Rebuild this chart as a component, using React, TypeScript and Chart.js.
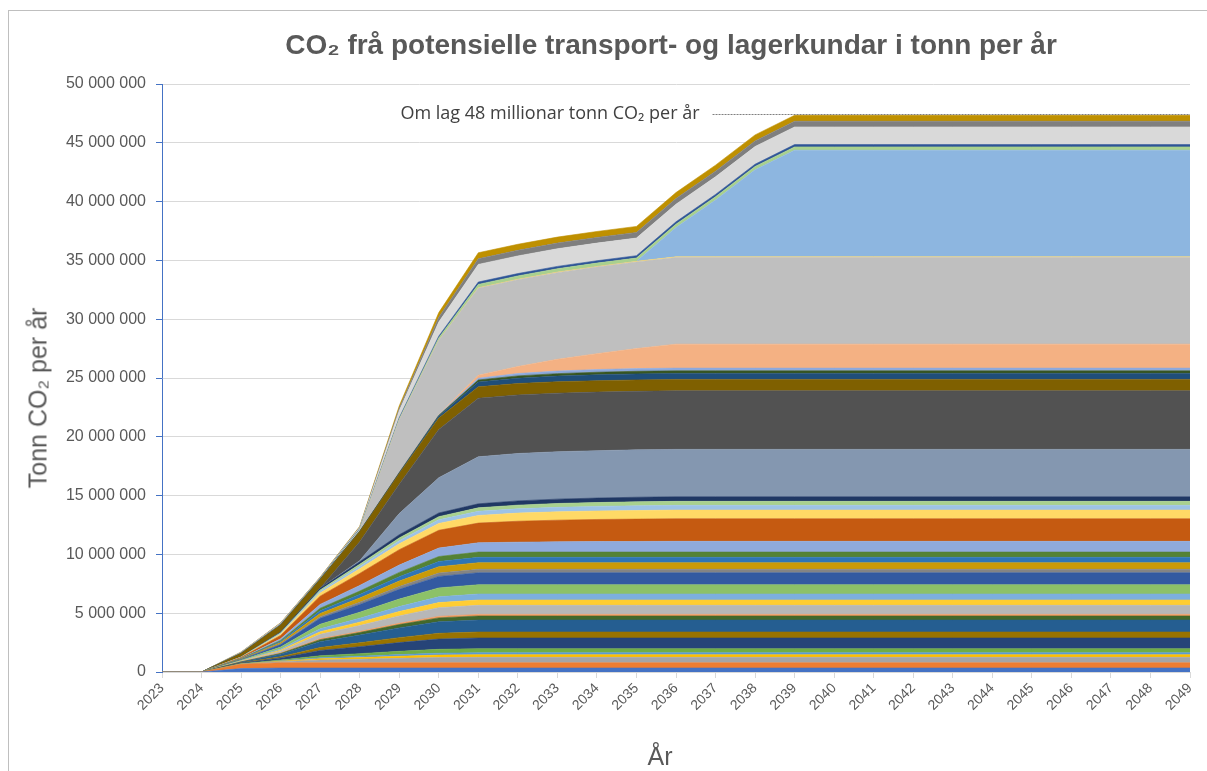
import React, { useEffect, useRef } from 'react';
import { Chart, registerables } from 'chart.js';

Chart.register(...registerables);

// ---------- DATA (values in millions of tonnes CO2 per year) ----------
const years = [
  '2023', '2024', '2025', '2026', '2027', '2028', '2029', '2030', '2031',
  '2032', '2033', '2034', '2035', '2036', '2037', '2038', '2039', '2040',
  '2041', '2042', '2043', '2044', '2045', '2046', '2047', '2048', '2049',
];

const yTickValues = [0, 5, 10, 15, 20, 25, 30, 35, 40, 45, 50];

const s01 = [0, 0, 0.29, 0.34, 0.34, 0.34, 0.34, 0.34, 0.34,
  0.34, 0.34, 0.34, 0.34, 0.34, 0.34, 0.34, 0.34, 0.34,
  0.34, 0.34, 0.34, 0.34, 0.34, 0.34, 0.34, 0.34, 0.34];
const s02 = [0, 0, 0.36, 0.45, 0.45, 0.45, 0.45, 0.45, 0.45,
  0.45, 0.45, 0.45, 0.45, 0.45, 0.45, 0.45, 0.45, 0.45,
  0.45, 0.45, 0.45, 0.45, 0.45, 0.45, 0.45, 0.45, 0.45];
const s03 = [0, 0, 0.02, 0.09, 0.23, 0.30, 0.37, 0.44, 0.46,
  0.46, 0.46, 0.46, 0.46, 0.46, 0.46, 0.46, 0.46, 0.46,
  0.46, 0.46, 0.46, 0.46, 0.46, 0.46, 0.46, 0.46, 0.46];
const s04 = [0, 0, 0.01, 0.04, 0.11, 0.14, 0.18, 0.21, 0.22,
  0.22, 0.22, 0.22, 0.22, 0.22, 0.22, 0.22, 0.22, 0.22,
  0.22, 0.22, 0.22, 0.22, 0.22, 0.22, 0.22, 0.22, 0.22];
const s05 = [0, 0, 0.01, 0.03, 0.08, 0.11, 0.14, 0.16, 0.17,
  0.17, 0.17, 0.17, 0.17, 0.17, 0.17, 0.17, 0.17, 0.17,
  0.17, 0.17, 0.17, 0.17, 0.17, 0.17, 0.17, 0.17, 0.17];
const s06 = [0, 0, 0.02, 0.07, 0.17, 0.22, 0.28, 0.33, 0.34,
  0.34, 0.34, 0.34, 0.34, 0.34, 0.34, 0.34, 0.34, 0.34,
  0.34, 0.34, 0.34, 0.34, 0.34, 0.34, 0.34, 0.34, 0.34];
const s07 = [0, 0, 0.05, 0.18, 0.45, 0.59, 0.74, 0.87, 0.91,
  0.91, 0.91, 0.91, 0.91, 0.91, 0.91, 0.91, 0.91, 0.91,
  0.91, 0.91, 0.91, 0.91, 0.91, 0.91, 0.91, 0.91, 0.91];
const s08 = [0, 0, 0.03, 0.10, 0.25, 0.33, 0.42, 0.49, 0.51,
  0.51, 0.51, 0.51, 0.51, 0.51, 0.51, 0.51, 0.51, 0.51,
  0.51, 0.51, 0.51, 0.51, 0.51, 0.51, 0.51, 0.51, 0.51];
const s09 = [0, 0, 0.05, 0.21, 0.50, 0.66, 0.83, 0.98, 1.02,
  1.02, 1.02, 1.02, 1.02, 1.02, 1.02, 1.02, 1.02, 1.02,
  1.02, 1.02, 1.02, 1.02, 1.02, 1.02, 1.02, 1.02, 1.02];
const s10 = [0, 0, 0.02, 0.07, 0.17, 0.22, 0.28, 0.33, 0.34,
  0.34, 0.34, 0.34, 0.34, 0.34, 0.34, 0.34, 0.34, 0.34,
  0.34, 0.34, 0.34, 0.34, 0.34, 0.34, 0.34, 0.34, 0.34];
const s11 = [0, 0, 0.01, 0.03, 0.07, 0.09, 0.11, 0.13, 0.14,
  0.14, 0.14, 0.14, 0.14, 0.14, 0.14, 0.14, 0.14, 0.14,
  0.14, 0.14, 0.14, 0.14, 0.14, 0.14, 0.14, 0.14, 0.14];
const s12 = [0, 0, 0.04, 0.16, 0.38, 0.50, 0.63, 0.74, 0.77,
  0.77, 0.77, 0.77, 0.77, 0.77, 0.77, 0.77, 0.77, 0.77,
  0.77, 0.77, 0.77, 0.77, 0.77, 0.77, 0.77, 0.77, 0.77];
const s13 = [0, 0, 0.02, 0.09, 0.22, 0.29, 0.37, 0.43, 0.45,
  0.45, 0.45, 0.45, 0.45, 0.45, 0.45, 0.45, 0.45, 0.45,
  0.45, 0.45, 0.45, 0.45, 0.45, 0.45, 0.45, 0.45, 0.45];
const s14 = [0, 0, 0.03, 0.10, 0.25, 0.33, 0.42, 0.49, 0.51,
  0.51, 0.51, 0.51, 0.51, 0.51, 0.51, 0.51, 0.51, 0.51,
  0.51, 0.51, 0.51, 0.51, 0.51, 0.51, 0.51, 0.51, 0.51];
const s15 = [0, 0, 0.04, 0.16, 0.39, 0.51, 0.64, 0.76, 0.79,
  0.79, 0.79, 0.79, 0.79, 0.79, 0.79, 0.79, 0.79, 0.79,
  0.79, 0.79, 0.79, 0.79, 0.79, 0.79, 0.79, 0.79, 0.79];
const s16 = [0, 0, 0.05, 0.21, 0.50, 0.66, 0.83, 0.98, 1.02,
  1.02, 1.02, 1.02, 1.02, 1.02, 1.02, 1.02, 1.02, 1.02,
  1.02, 1.02, 1.02, 1.02, 1.02, 1.02, 1.02, 1.02, 1.02];
const s17 = [0, 0, 0.02, 0.06, 0.14, 0.19, 0.24, 0.28, 0.29,
  0.29, 0.29, 0.29, 0.29, 0.29, 0.29, 0.29, 0.29, 0.29,
  0.29, 0.29, 0.29, 0.29, 0.29, 0.29, 0.29, 0.29, 0.29];
const s18 = [0, 0, 0.03, 0.11, 0.27, 0.36, 0.46, 0.54, 0.56,
  0.56, 0.56, 0.56, 0.56, 0.56, 0.56, 0.56, 0.56, 0.56,
  0.56, 0.56, 0.56, 0.56, 0.56, 0.56, 0.56, 0.56, 0.56];
const s19 = [0, 0, 0.02, 0.09, 0.23, 0.30, 0.37, 0.44, 0.46,
  0.46, 0.46, 0.46, 0.46, 0.46, 0.46, 0.46, 0.46, 0.46,
  0.46, 0.46, 0.46, 0.46, 0.46, 0.46, 0.46, 0.46, 0.46];
const s20 = [0, 0, 0.02, 0.09, 0.22, 0.29, 0.37, 0.43, 0.45,
  0.45, 0.45, 0.45, 0.45, 0.45, 0.45, 0.45, 0.45, 0.45,
  0.45, 0.45, 0.45, 0.45, 0.45, 0.45, 0.45, 0.45, 0.45];
const s21 = [0, 0, 0.03, 0.14, 0.33, 0.48, 0.62, 0.72, 0.79,
  0.84, 0.87, 0.89, 0.90, 0.91, 0.91, 0.91, 0.91, 0.91,
  0.91, 0.91, 0.91, 0.91, 0.91, 0.91, 0.91, 0.91, 0.91];
const s22 = [0, 0, 0.06, 0.29, 0.70, 1.02, 1.31, 1.51, 1.67,
  1.78, 1.84, 1.88, 1.90, 1.92, 1.92, 1.92, 1.92, 1.92,
  1.92, 1.92, 1.92, 1.92, 1.92, 1.92, 1.92, 1.92, 1.92];
const s23 = [0, 0, 0.02, 0.11, 0.27, 0.39, 0.50, 0.58, 0.65,
  0.69, 0.71, 0.72, 0.73, 0.74, 0.74, 0.74, 0.74, 0.74,
  0.74, 0.74, 0.74, 0.74, 0.74, 0.74, 0.74, 0.74, 0.74];
const s24 = [0, 0, 0.01, 0.06, 0.14, 0.21, 0.27, 0.31, 0.35,
  0.37, 0.38, 0.39, 0.40, 0.40, 0.40, 0.40, 0.40, 0.40,
  0.40, 0.40, 0.40, 0.40, 0.40, 0.40, 0.40, 0.40, 0.40];
const s25 = [0, 0, 0.01, 0.05, 0.12, 0.18, 0.23, 0.27, 0.30,
  0.31, 0.33, 0.33, 0.34, 0.34, 0.34, 0.34, 0.34, 0.34,
  0.34, 0.34, 0.34, 0.34, 0.34, 0.34, 0.34, 0.34, 0.34];
const s26 = [0, 0, 0.01, 0.06, 0.14, 0.21, 0.27, 0.31, 0.34,
  0.36, 0.37, 0.38, 0.39, 0.39, 0.39, 0.39, 0.39, 0.39,
  0.39, 0.39, 0.39, 0.39, 0.39, 0.39, 0.39, 0.39, 0.39];
const s27 = [0, 0, 0, 0, 0, 0.10, 1.80, 3.00, 4.00,
  4.03, 4.03, 4.03, 4.03, 4.03, 4.03, 4.03, 4.03, 4.03,
  4.03, 4.03, 4.03, 4.03, 4.03, 4.03, 4.03, 4.03, 4.03];
const s28 = [0, 0, 0, 0, 0, 1.60, 2.50, 4.10, 4.98,
  4.98, 4.98, 4.98, 4.98, 4.98, 4.98, 4.98, 4.98, 4.98,
  4.98, 4.98, 4.98, 4.98, 4.98, 4.98, 4.98, 4.98, 4.98];
const s29 = [0, 0, 0.30, 0.60, 0.75, 0.85, 0.90, 0.97, 0.97,
  0.97, 0.97, 0.97, 0.97, 0.97, 0.97, 0.97, 0.97, 0.97,
  0.97, 0.97, 0.97, 0.97, 0.97, 0.97, 0.97, 0.97, 0.97];
const s30 = [0, 0, 0, 0, 0.02, 0.03, 0.05, 0.15, 0.40,
  0.45, 0.48, 0.50, 0.51, 0.51, 0.51, 0.51, 0.51, 0.51,
  0.51, 0.51, 0.51, 0.51, 0.51, 0.51, 0.51, 0.51, 0.51];
const s31 = [0, 0, 0, 0, 0, 0.01, 0.03, 0.08, 0.18,
  0.20, 0.21, 0.22, 0.22, 0.22, 0.22, 0.22, 0.22, 0.22,
  0.22, 0.22, 0.22, 0.22, 0.22, 0.22, 0.22, 0.22, 0.22];
const s32 = [0, 0, 0, 0, 0, 0, 0.02, 0.05, 0.15,
  0.20, 0.22, 0.23, 0.23, 0.23, 0.23, 0.23, 0.23, 0.23,
  0.23, 0.23, 0.23, 0.23, 0.23, 0.23, 0.23, 0.23, 0.23];
const s33 = [0, 0, 0, 0, 0, 0, 0, 0.02, 0.25,
  0.60, 1.00, 1.35, 1.70, 2.04, 2.04, 2.04, 2.04, 2.04,
  2.04, 2.04, 2.04, 2.04, 2.04, 2.04, 2.04, 2.04, 2.04];
const s34 = [0, 0, 0, 0, 0, 0.10, 4.45, 6.30, 7.40,
  7.37, 7.37, 7.37, 7.37, 7.37, 7.37, 7.37, 7.37, 7.37,
  7.37, 7.37, 7.37, 7.37, 7.37, 7.37, 7.37, 7.37, 7.37];
const s35 = [0, 0, 0, 0, 0, 0, 0, 0.02, 0.05,
  0.05, 0.05, 0.05, 0.05, 0.05, 0.05, 0.05, 0.05, 0.05,
  0.05, 0.05, 0.05, 0.05, 0.05, 0.05, 0.05, 0.05, 0.05];
const s36 = [0, 0, 0, 0, 0, 0, 0, 0, 0,
  0, 0, 0, 0, 2.50, 4.83, 7.40, 9.07, 9.07,
  9.07, 9.07, 9.07, 9.07, 9.07, 9.07, 9.07, 9.07, 9.07];
const s37 = [0, 0, 0.02, 0.03, 0.03, 0.05, 0.10, 0.20, 0.28,
  0.28, 0.28, 0.28, 0.28, 0.28, 0.28, 0.28, 0.28, 0.28,
  0.28, 0.28, 0.28, 0.28, 0.28, 0.28, 0.28, 0.28, 0.28];
const s38 = [0, 0, 0.03, 0.05, 0.05, 0.07, 0.10, 0.15, 0.20,
  0.20, 0.20, 0.20, 0.20, 0.20, 0.20, 0.20, 0.20, 0.20,
  0.20, 0.20, 0.20, 0.20, 0.20, 0.20, 0.20, 0.20, 0.20];
const s39 = [0, 0, 0.05, 0.07, 0.05, 0.10, 0.60, 1.20, 1.50,
  1.50, 1.50, 1.50, 1.50, 1.50, 1.50, 1.50, 1.50, 1.50,
  1.50, 1.50, 1.50, 1.50, 1.50, 1.50, 1.50, 1.50, 1.50];
const s40 = [0, 0, 0, 0.02, 0.02, 0.04, 0.20, 0.40, 0.48,
  0.48, 0.48, 0.48, 0.48, 0.48, 0.48, 0.48, 0.48, 0.48,
  0.48, 0.48, 0.48, 0.48, 0.48, 0.48, 0.48, 0.48, 0.48];
const s41 = [0, 0, 0.02, 0.03, 0.03, 0.06, 0.20, 0.40, 0.51,
  0.51, 0.51, 0.51, 0.51, 0.51, 0.51, 0.51, 0.51, 0.51,
  0.51, 0.51, 0.51, 0.51, 0.51, 0.51, 0.51, 0.51, 0.51];

const seriesValues = [
  s01, s02, s03, s04, s05, s06, s07, s08, s09, s10,
  s11, s12, s13, s14, s15, s16, s17, s18, s19, s20,
  s21, s22, s23, s24, s25, s26, s27, s28, s29, s30,
  s31, s32, s33, s34, s35, s36, s37, s38, s39, s40, s41,
];

const seriesColors = [
  '#4472C4', '#ED7D31', '#A5A5A5', '#FFC000', '#5B9BD5', '#70AD47', '#264478', '#997300', '#255E91', '#43682B',
  '#F1975A', '#B7B7B7', '#FFCD33', '#7CAFDD', '#8CC168', '#335AA1', '#848484', '#CA9A08', '#2E75B6', '#548235',
  '#8FAADC', '#C55A11', '#FFD966', '#9DC3E6', '#A9D18E', '#203864', '#8497B0', '#525252', '#7F6000', '#1F4E79',
  '#375623', '#8EA9DB', '#F4B183', '#BFBFBF', '#FFD966', '#8DB6E0', '#A9D18E', '#2F5597', '#D9D9D9', '#7F7F7F', '#BF9000',
];

const chartTitle = 'CO₂ frå potensielle transport- og lagerkundar i tonn per år';
const yAxisTitle = 'Tonn CO₂ per år';
const xAxisTitle = 'År';
const noteText = 'Om lag 48 millionar tonn CO₂ per år';
const noteStartYear = '2037';

const TICK_FONT = '"Liberation Sans", Arial, sans-serif';
const NOTE_FONT = '"Open Sans", "Liberation Sans", sans-serif';

function formatTonnes(v: number): string {
  const n = Math.round(v * 1000000);
  return String(n).replace(/\B(?=(\d{3})+(?!\d))/g, ' ');
}

const notePlugin = {
  id: 'topNote',
  afterDatasetsDraw(chart: any) {
    const { ctx, chartArea, scales } = chart;
    const lastIdx = years.length - 1;
    let total = 0;
    seriesValues.forEach((s) => { total += s[lastIdx]; });
    const y = Math.round(scales.y.getPixelForValue(total)) - 0.5;
    const x0 = scales.x.getPixelForValue(years.indexOf(noteStartYear)) - 3;
    ctx.save();
    ctx.strokeStyle = '#7F7F7F';
    ctx.lineWidth = 1;
    ctx.setLineDash([2, 1]);
    ctx.beginPath();
    ctx.moveTo(x0, y);
    ctx.lineTo(chartArea.right, y);
    ctx.stroke();
    ctx.setLineDash([]);
    ctx.fillStyle = '#404040';
    ctx.font = '18px ' + NOTE_FONT;
    ctx.textAlign = 'right';
    ctx.textBaseline = 'middle';
    ctx.fillText(noteText, x0 - 13, y - 1);
    ctx.restore();
  },
};

export default function App() {
  const canvasRef = useRef<HTMLCanvasElement | null>(null);

  useEffect(() => {
    if (!canvasRef.current) return;
    const datasets = seriesValues.map((data, i) => ({
      label: 'Kunde ' + (i + 1),
      data,
      backgroundColor: seriesColors[i],
      borderColor: seriesColors[i],
      borderWidth: 0.6,
      pointRadius: 0,
      pointHoverRadius: 0,
      tension: 0,
      fill: i === 0 ? 'origin' : '-1',
    }));
    const chart = new Chart(canvasRef.current, {
      type: 'line',
      data: { labels: years, datasets },
      plugins: [notePlugin],
      options: {
        animation: false,
        responsive: false,
        maintainAspectRatio: false,
        events: [],
        layout: { padding: { left: 0, top: 84, right: 17, bottom: 0 } },
        plugins: {
          legend: { display: false },
          tooltip: { enabled: false },
          title: { display: false },
        },
        scales: {
          x: {
            offset: false,
            ticks: {
              autoSkip: false,
              maxRotation: 45,
              minRotation: 45,
              color: '#595959',
              font: { family: TICK_FONT, size: 14 },
              padding: 2,
            },
            grid: {
              drawOnChartArea: false,
              drawTicks: true,
              tickLength: 6,
              tickColor: '#D9D9D9',
              color: '#D9D9D9',
            },
            border: { color: '#D9D9D9' },
            afterFit: (scale: any) => { scale.height = 99; },
          },
          y: {
            stacked: true,
            min: 0,
            max: 50,
            afterBuildTicks: (scale: any) => {
              scale.ticks = yTickValues.map((v) => ({ value: v }));
            },
            ticks: {
              color: '#595959',
              font: { family: TICK_FONT, size: 16 },
              padding: 10,
              callback: (v: any) => formatTonnes(Number(v)),
            },
            grid: {
              color: '#D9D9D9',
              tickColor: '#4472C4',
              tickLength: 6,
            },
            border: { color: '#4472C4' },
            afterFit: (scale: any) => { scale.width = 162; },
          },
        },
      },
    });
    return () => chart.destroy();
  }, []);

  return (
    <div style={{ position: 'fixed', left: 0, top: 0, width: 1207, height: 771, background: '#fff', overflow: 'hidden' }}>
      <div style={{ position: 'absolute', left: 8, top: 10, width: 1300, height: 900, borderLeft: '1px solid #BFBFBF', borderTop: '1px solid #BFBFBF' }} />
      <canvas ref={canvasRef} width={1207} height={771} style={{ position: 'absolute', left: 0, top: 0 }} />
      <div style={{ position: 'absolute', left: 671, top: 45, transform: 'translate(-50%, -50%)', whiteSpace: 'nowrap', fontFamily: '"Liberation Sans Narrow", "Liberation Sans", Arial, sans-serif', fontWeight: 'bold', fontSize: 28, color: '#595959' }}>
        {chartTitle}
      </div>
      <div style={{ position: 'absolute', left: 38, top: 398, transform: 'translate(-50%, -50%) rotate(-90deg)', whiteSpace: 'nowrap', fontFamily: TICK_FONT, fontSize: 25, color: '#595959' }}>
        {yAxisTitle}
      </div>
      <div style={{ position: 'absolute', left: 660, top: 756, transform: 'translate(-50%, -50%)', whiteSpace: 'nowrap', fontFamily: TICK_FONT, fontSize: 25, color: '#595959' }}>
        {xAxisTitle}
      </div>
    </div>
  );
}
